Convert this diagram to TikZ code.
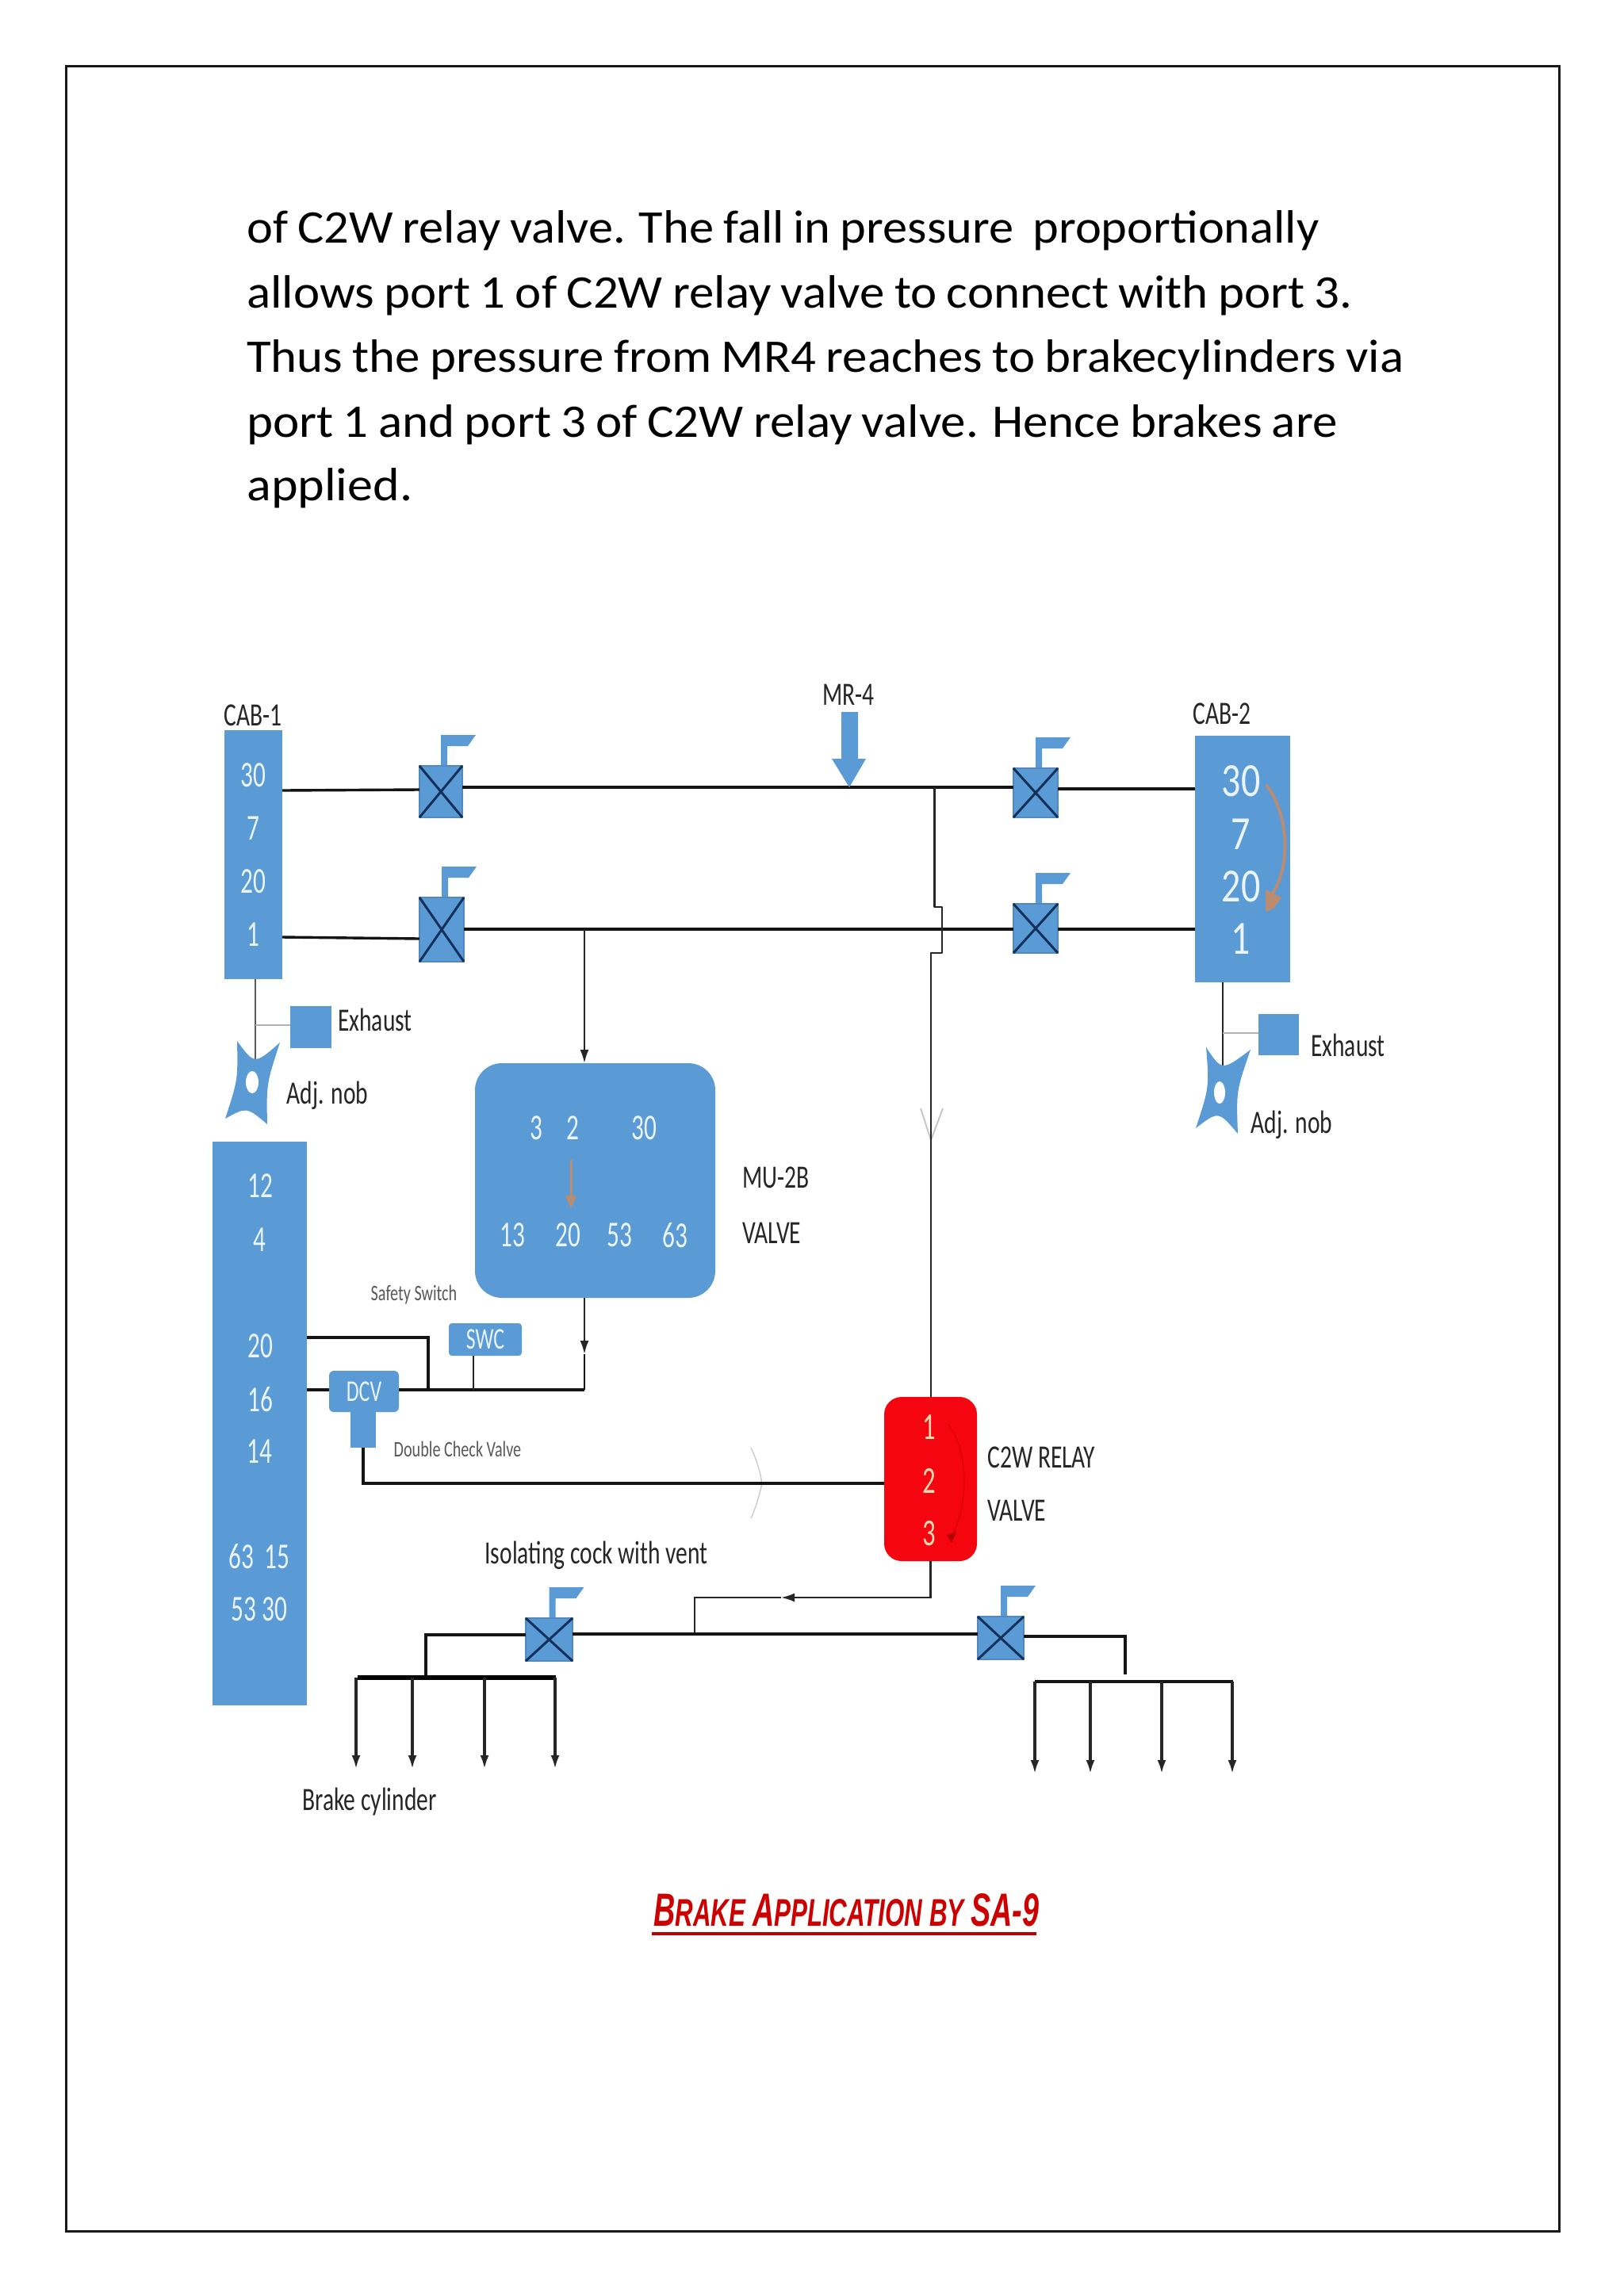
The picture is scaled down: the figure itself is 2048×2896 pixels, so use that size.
\documentclass[tikz,border=0pt]{standalone}
\usepackage{fontspec}
\usepackage{graphicx}
\usetikzlibrary{arrows.meta}
\setmainfont[WordSpace=0.86]{Carlito}
\newfontfamily\narrowfont[FakeStretch=0.68]{Carlito}
\newfontfamily\labelfont[FakeStretch=0.72]{Carlito}
\newfontfamily\midfont[FakeStretch=0.8]{Carlito}
\newfontfamily\titlefont[BoldFont={Liberation Sans Bold Italic}]{Liberation Sans}
\definecolor{vblue}{HTML}{5B9BD5}
\definecolor{vedge}{HTML}{5288C0}
\definecolor{navy}{HTML}{12305A}
\definecolor{lbl}{HTML}{262626}
\definecolor{numw}{HTML}{E9F4FD}
\definecolor{relay}{HTML}{F5050F}
\definecolor{rust}{HTML}{BC8C70}
\tikzset{
  x=0.5pt,y=-0.5pt,
  wh/.style 2 args={minimum width=#1*0.5pt,minimum height=#2*0.5pt,inner sep=0pt,outer sep=0pt},
  block/.style={fill=vblue,draw=none},
  rblock/.style={fill=vblue,draw=none,rounded corners=4pt},
  valve/.style={fill=vblue,draw=vedge,line width=0.8pt},
  pipe/.style={draw=black!92,line width=1.7pt},
  thin pipe/.style={draw=black!85,line width=1.15pt},
  label/.style={font=\labelfont\fontsize{20.5}{22}\selectfont,text=lbl,inner sep=0pt},
  small label/.style={font=\labelfont\fontsize{14}{16}\selectfont,text=black!65,inner sep=0pt},
  num/.style={font=\narrowfont\fontsize{23}{25}\selectfont,text=numw,inner sep=0pt},
  bignum/.style={font=\midfont\fontsize{30}{32}\selectfont,text=numw,inner sep=0pt},
  rnum/.style={font=\narrowfont\fontsize{24}{26}\selectfont,text=orange!30,inner sep=0pt},
  para/.style={anchor=base west,inner sep=0pt,font=\fontsize{29.5}{32}\selectfont,text=black},
  tip/.style={-{Latex[length=8.5pt,width=5.5pt]}},
}
% name, cx, cy, w, h
\newcommand{\valvebox}[5]{%
  \fill[vblue] (#2,#3-#5/2) ++(0,2) -- ++(0,-41) -- ++(44,0) -- ++(-10,14) -- ++(-26,0) -- ++(0,29) -- cycle;
  \node[valve,wh={#4}{#5}] (#1) at (#2,#3) {};
  \draw[navy,line width=1.5pt] (#1.north west) -- (#1.south east) (#1.north east) -- (#1.south west);
}
\begin{document}
\begin{tikzpicture}
\useasboundingbox (0,0) rectangle (2048,2896);
\fill[white] (0,0) rectangle (2048,2896);
\node[draw=black!90,line width=1.6pt,wh={1883}{2731}] (frame) at (1025.3,1449.2) {};
% paragraph
\node[para] (p1) at (311,306) {\resizebox{676pt}{\height}{of C2W relay valve. The fall in pressure \ proportionally}};
\node[para] (p2) at (311,388) {\resizebox{697pt}{\height}{allows port 1 of C2W relay valve to connect with port 3.}};
\node[para] (p3) at (311,469) {\resizebox{729.5pt}{\height}{Thus the pressure from MR4 reaches to brakecylinders via}};
\node[para] (p4) at (311,551) {\resizebox{687.5pt}{\height}{port 1 and port 3 of C2W relay valve. Hence brakes are}};
\node[para] (p5) at (311,631) {\resizebox{104.5pt}{\height}{applied.}};
% CAB-1
\node[block,wh={73}{314}] (cab1) at (319.5,1078) {};
\node[label] (cab1l) at (319,902) {CAB-1};
\node[num] at (319,978) {30};
\node[num] at (319,1045) {7};
\node[num] at (319,1112) {20};
\node[num] at (319,1179) {1};
% CAB-2
\node[block,wh={120}{311}] (cab2) at (1567,1083.5) {};
\node[label] (cab2l) at (1541,900) {CAB-2};
\node[bignum] at (1565,985) {30};
\node[bignum] at (1565,1052) {7};
\node[bignum] at (1565,1118) {20};
\node[bignum] at (1565,1184) {1};
\draw[rust,line width=1.9pt] (1597,990) .. controls (1627,1030) and (1627,1095) .. (1604,1128);
\fill[rust] (1596,1122) -- (1616,1132) -- (1606,1146) -- (1596,1150) -- cycle;
% valves
\valvebox{v1}{556}{998.5}{54}{65}
\valvebox{v2}{557}{1172.5}{56}{81}
\valvebox{v3}{1306}{1000}{56}{62}
\valvebox{v4}{1306}{1171}{56}{62}
\valvebox{v5}{692.5}{2068}{59}{54}
\valvebox{v6}{1262}{2066}{58}{54}
% top lines
\draw[pipe] (cab1.east |- 0,997) -- (v1.west |- 0,996);
\draw[pipe] (v1.east |- 0,993) -- (v3.west |- 0,993);
\draw[pipe] (v3.east |- 0,995) -- (cab2.west |- 0,995);
\draw[pipe] (cab1.east |- 0,1182) -- (v2.west |- 0,1184);
\draw[pipe] (v2.east |- 0,1172) -- (v4.west |- 0,1172);
\draw[pipe] (v4.east |- 0,1172) -- (cab2.west |- 0,1172);
% MR-4
\node[label] (mr4l) at (1070,876) {MR-4};
\fill[vblue] (1061,898) -- (1082,898) -- (1082,957) -- (1092,957) -- (1071,993) -- (1049,957) -- (1061,957) -- cycle;
% knobs
\draw[thin pipe,draw=black!65] (cab1.south -| 322,0) -- (322,1336);
\draw[black!30,line width=1pt] (322,1293) -- (366,1293);
\node[block,wh={52}{53}] (ex1) at (392,1295.5) {};
\node[label] (ex1l) at (473,1286) {Exhaust};
\fill[vblue] (299,1313) .. controls (321,1343) and (321,1343) .. (353,1315)
  .. controls (336,1367) and (336,1367) .. (337,1418)
  .. controls (311,1396) and (311,1396) .. (284,1411)
  .. controls (300,1362) and (300,1362) .. cycle;
\fill[white] (318,1365) ellipse [x radius=8,y radius=14];
\node[label] (adj1) at (413,1382) {Adj. nob};
\draw[thin pipe] (cab2.south -| 1542,0) -- (1542,1344);
\draw[black!30,line width=1pt] (1542,1303) -- (1587,1303);
\node[block,wh={51}{52}] (ex2) at (1612.5,1305) {};
\node[label] (ex2l) at (1700,1318) {Exhaust};
\fill[vblue] (1521,1321) .. controls (1541,1351) and (1541,1351) .. (1577,1324)
  .. controls (1559,1376) and (1559,1376) .. (1561,1430)
  .. controls (1536.5,1401) and (1536.5,1401) .. (1508,1423)
  .. controls (1525,1371) and (1525,1371) .. cycle;
\fill[white] (1538,1378) ellipse [x radius=7,y radius=14];
\node[label] (adj2) at (1629,1419) {Adj. nob};
% left tall block
\node[block,wh={119}{711}] (lb) at (327.5,1795.5) {};
\node[num] at (328,1496) {12};
\node[num] at (327,1564) {4};
\node[num] at (328,1698) {20};
\node[num] at (328,1765) {16};
\node[num] at (327,1831) {14};
\node[num] at (327,1963) {63\hspace{7pt}15};
\node[num] at (327,2030) {53\hspace{4pt}30};
% MU-2B
\node[block,rounded corners=17pt,wh={303}{296}] (mu) at (750.5,1489) {};
\node[num] at (676,1423) {3};
\node[num] at (722,1423) {2};
\node[num] at (812,1423) {30};
\node[num] at (646,1558) {13};
\node[num] at (716,1558) {20};
\node[num] at (781,1558) {53};
\node[num] at (851,1558) {63};
\draw[rust,line width=1.5pt] (720,1463) -- (720,1512);
\fill[rust] (713,1508) -- (727,1508) -- (720,1524) -- cycle;
\node[label,anchor=west] (mul) at (936,1485) {MU-2B};
\node[label,anchor=west] (mul2) at (936,1555) {VALVE};
\coordinate (jtop) at (737,1172);
\draw[thin pipe,tip] (jtop) -- (mu.north -| jtop);
% SWC, DCV
\node[small label] (safety) at (522,1633) {Safety Switch};
\node[rblock,rounded corners=2pt,wh={92}{41},font=\narrowfont\fontsize{19}{21}\selectfont,text=numw] (swc) at (612,1689.5) {SWC};
\node[rblock,rounded corners=3pt,wh={88}{52},font=\narrowfont\fontsize{19}{21}\selectfont,text=numw] (dcv) at (459,1755) {DCV};
\node[block,wh={32.5}{46}] (dcvb) at (458,1803) {};
\node[small label,font=\labelfont\fontsize{14}{16}\selectfont] (dcl) at (577,1828) {Double Check Valve};
\coordinate (j16) at (540,1753);
\coordinate (jmu) at (737,1753);
\coordinate (jmid) at (737,1708);
\draw[pipe] (lb.east |- 0,1687) -| (j16);
\draw[pipe] (lb.east |- 0,1753) -- (dcv.west |- 0,1753);
\draw[pipe] (dcv.east |- 0,1753) -- (jmu);
\draw[thin pipe] (swc.south -| 597,0) -- (597,1753);
\draw[thin pipe,tip] (mu.south -| jmid) -- (jmid);
\draw[pipe,line width=1.4pt] (jmid) -- (jmu);
% faint marks
\draw[black!20,line width=0.7pt] (947,1826) .. controls (958,1850) and (962,1870) .. (960,1875) .. controls (958,1885) and (952,1905) .. (947,1915);
\draw[black!22,line width=1pt] (1161,1398) -- (1174,1438) -- (1189,1398);
% C2W relay
\node[fill=relay,rounded corners=11pt,wh={117}{207}] (c2w) at (1173.5,1865.5) {};
\node[rnum] at (1172,1800) {1};
\node[rnum] at (1172,1868) {2};
\node[rnum] at (1172,1934) {3};
\draw[red!85!black,line width=0.7pt] (1196,1797) .. controls (1222,1830) and (1222,1900) .. (1199,1940);
\fill[red!70!black] (1194,1936) -- (1206,1932) -- (1200,1946) -- cycle;
\node[label,anchor=west] (cl1) at (1245,1838) {C2W RELAY};
\node[label,anchor=west] (cl2) at (1245,1905) {VALVE};
\draw[pipe] (dcvb.south) |- (c2w.west |- 0,1871);
% vertical MR-4 line to relay with jump
\draw[thin pipe,line join=round] (1178.5,993) -- (1178.5,1144) -- (1188,1144) -- (1188,1202) -- (1174,1202) -- (c2w.north -| 1174,0);
% lower lines
\coordinate (bt) at (876,2061);
\coordinate (tmid) at (985,2015);
\draw[thin pipe,tip] (c2w.south) |- (tmid);
\draw[thin pipe] (tmid) -| (bt);
\draw[pipe] (v5.east |- bt) -- (v6.west |- bt);
\node[label] (iso) at (752,1962) {Isolating cock with vent};
% left bus
\coordinate (lbus) at (537,2116);
\draw[pipe] (v5.west |- 0,2062) -| (lbus);
\draw[line width=2.6pt,black] (451,2116) -- (701,2116);
\foreach \xx in {449,520,611,700} {\draw[thin pipe,line width=1.6pt,tip] (\xx,2116) -- (\xx,2231);}
\node[label] (bc) at (466,2273) {Brake cylinder};
% right bus
\coordinate (rbus) at (1419,2112);
\draw[pipe] (v6.east |- 0,2064) -| (rbus);
\draw[pipe,line width=2pt] (1305,2121) -- (1555,2121);
\foreach \xx in {1305,1375,1465,1554} {\draw[thin pipe,line width=1.6pt,tip] (\xx,2121) -- (\xx,2237);}
% title
\node[anchor=base west,inner sep=0pt,text=red!80!black] (title) at (824,2429) {\resizebox{243pt}{20.5pt}{\titlefont\bfseries\fontsize{28.6}{30}\selectfont B\fontsize{23.7}{25}\selectfont RAKE \fontsize{28.6}{30}\selectfont A\fontsize{23.7}{25}\selectfont PPLICATION BY \fontsize{28.6}{30}\selectfont SA-9}};
\draw[red!75!black,line width=1.8pt] (822,2439) -- (1307,2439);
\end{tikzpicture}
\end{document}
